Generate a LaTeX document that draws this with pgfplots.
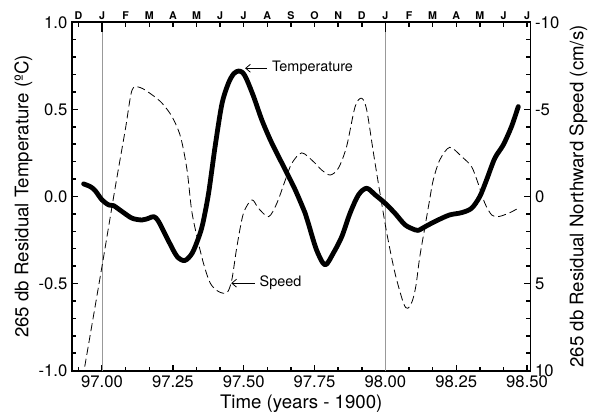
\documentclass[border=0pt]{standalone}
\usepackage{fontspec}
\setmainfont{TeX Gyre Heros}
\usepackage{pgfplots}
\pgfplotsset{compat=1.18}
\usetikzlibrary{arrows.meta}

\begin{document}
\begin{tikzpicture}
\pgfplotsset{
  common/.style={
    width=343.9pt, height=261.3pt, scale only axis,
    xmin=96.894, xmax=98.512,
    tick align=inside,
    major tick length=4.5pt, minor tick length=3pt,
    every tick/.style={black, line width=1.1pt},
    axis line style={line width=1.4pt},
    tick label style={font=\fontsize{12.5}{14}\selectfont},
    label style={font=\fontsize{14}{16}\selectfont},
  }
}
\begin{axis}[common,
  ymin=-1, ymax=1,
  xtick={97,97.25,97.5,97.75,98,98.25,98.5},
  xticklabels={97.00,97.25,97.50,97.75,98.00,98.25,98.50},
  minor xtick={96.91667,97.08333,97.16667,97.33333,97.41667,97.58333,97.66667,97.83333,97.91667,98.08333,98.16667,98.33333,98.41667},
  ytick={-1,-0.5,0,0.5,1},
  yticklabels={-1.0,-0.5,0.0,0.5,1.0},
  minor y tick num=4,
  xtick pos=left, ytick pos=left,
  xlabel={Time (years - 1900)},
  ylabel={265 db Residual Temperature (ºC)},
  xlabel style={at={(axis description cs:0.5,-0.0956)}, anchor=center},
  ylabel style={at={(axis description cs:-0.1058,0.5)}, anchor=center},
]
\coordinate (ll) at (rel axis cs:0,0);
\coordinate (ur) at (rel axis cs:1,1);
\addplot[gray!80, line width=0.3pt, dash pattern=on 1pt off 0.5pt] coordinates {(97,-1) (97,1)};
\addplot[gray!80, line width=0.3pt, dash pattern=on 1pt off 0.5pt] coordinates {(98,-1) (98,1)};
\addplot[black, line width=3.6pt, smooth, line join=round, line cap=round] coordinates {
(96.935,0.072) (96.959,0.056) (96.976,0.033) (97.000,-0.020) (97.024,-0.049)
(97.041,-0.053) (97.071,-0.087) (97.106,-0.125) (97.141,-0.135) (97.165,-0.125)
(97.183,-0.116) (97.200,-0.145) (97.236,-0.260) (97.265,-0.345) (97.292,-0.368)
(97.318,-0.326) (97.340,-0.240) (97.355,-0.160) (97.376,0.018) (97.399,0.286)
(97.423,0.530) (97.446,0.650) (97.465,0.705) (97.482,0.720) (97.497,0.710)
(97.511,0.670) (97.535,0.573) (97.564,0.439) (97.594,0.324) (97.611,0.267)
(97.647,0.152) (97.682,0.037) (97.717,-0.097) (97.728,-0.154) (97.757,-0.307)
(97.787,-0.393) (97.816,-0.326) (97.846,-0.231) (97.875,-0.097) (97.905,0.009)
(97.934,0.047) (97.964,0.009) (97.999,-0.039) (98.034,-0.097) (98.070,-0.164)
(98.105,-0.192) (98.116,-0.195) (98.151,-0.164) (98.186,-0.135) (98.227,-0.106)
(98.269,-0.093) (98.304,-0.068) (98.333,-0.001) (98.357,0.095) (98.386,0.219)
(98.416,0.296) (98.445,0.401) (98.469,0.516)
};
\draw[{Straight Barb[length=3.5pt,width=6pt]}-, line width=0.6pt] (axis cs:97.505,0.736) -- (axis cs:97.582,0.736)
  node[right, inner sep=3.5pt, font=\fontsize{10.8}{12}\selectfont] {Temperature};
\draw[{Straight Barb[length=3.5pt,width=6pt]}-, line width=0.6pt] (axis cs:97.456,-0.498) -- (axis cs:97.541,-0.498)
  node[right, inner sep=3pt, font=\fontsize{10.8}{12}\selectfont] {Speed};
\end{axis}

\begin{axis}[common,
  ymin=-10, ymax=10, y dir=reverse,
  hide x axis, axis y line*=right,
  ytick={-10,-5,0,5,10},
  yticklabels={-10,-5,0,5,10},
  minor y tick num=4,
  ylabel={265 db Residual Northward Speed (cm/s)},
  ylabel style={at={(axis description cs:1.1047,0.5)}, anchor=center},
]
\addplot[black, line width=0.6pt, dash pattern=on 6pt off 3pt, smooth] coordinates {
(96.939,9.77) (97.000,4.00) (97.047,-0.56) (97.082,-3.82) (97.106,-6.11)
(97.135,-6.25) (97.177,-5.83) (97.212,-5.35) (97.247,-4.58) (97.277,-3.43)
(97.300,-1.52) (97.316,0.77) (97.335,2.31) (97.358,3.84) (97.382,4.98)
(97.411,5.46) (97.441,5.52) (97.458,4.79) (97.476,2.88) (97.499,0.97)
(97.529,0.20) (97.552,0.68) (97.588,1.16) (97.617,0.39) (97.647,-0.95)
(97.670,-1.91) (97.705,-2.50) (97.746,-2.00) (97.775,-1.52) (97.805,-1.23)
(97.834,-1.62) (97.863,-2.86) (97.893,-5.15) (97.916,-5.64) (97.934,-4.97)
(97.958,-2.48) (97.981,-0.18) (98.005,2.11) (98.034,4.41) (98.064,6.13)
(98.079,6.42) (98.095,6.00) (98.108,5.10) (98.121,3.50) (98.139,1.80)
(98.155,0.30) (98.169,-0.95) (98.192,-2.10) (98.227,-2.82) (98.269,-2.29)
(98.304,-1.71) (98.327,-0.76) (98.351,0.39) (98.375,1.06) (98.398,1.16)
(98.434,0.97) (98.463,0.73)
};
\end{axis}

\begin{axis}[common,
  ymin=0, ymax=1,
  hide y axis, axis x line*=top,
  major tick length=3.2pt,
  xtick={96.91667,97.0,97.08333,97.16667,97.25,97.33333,97.41667,97.5,97.58333,97.66667,97.75,97.83333,97.91667,98.0,98.08333,98.16667,98.25,98.33333,98.41667,98.5},
  xticklabels={D,J,F,M,A,M,J,J,A,S,O,N,D,J,F,M,A,M,J,J},
  xticklabel style={font=\fontsize{8}{9}\selectfont\bfseries, inner sep=2pt},
  extra x ticks={97,98},
  extra x tick labels={},
  extra x tick style={major tick length=7.5pt},
]
\end{axis}

\pgfresetboundingbox
\path ([shift={(-54pt,-32.5pt)}]ll) rectangle ([shift={(45.4pt,16.7pt)}]ur);
\end{tikzpicture}
\end{document}
